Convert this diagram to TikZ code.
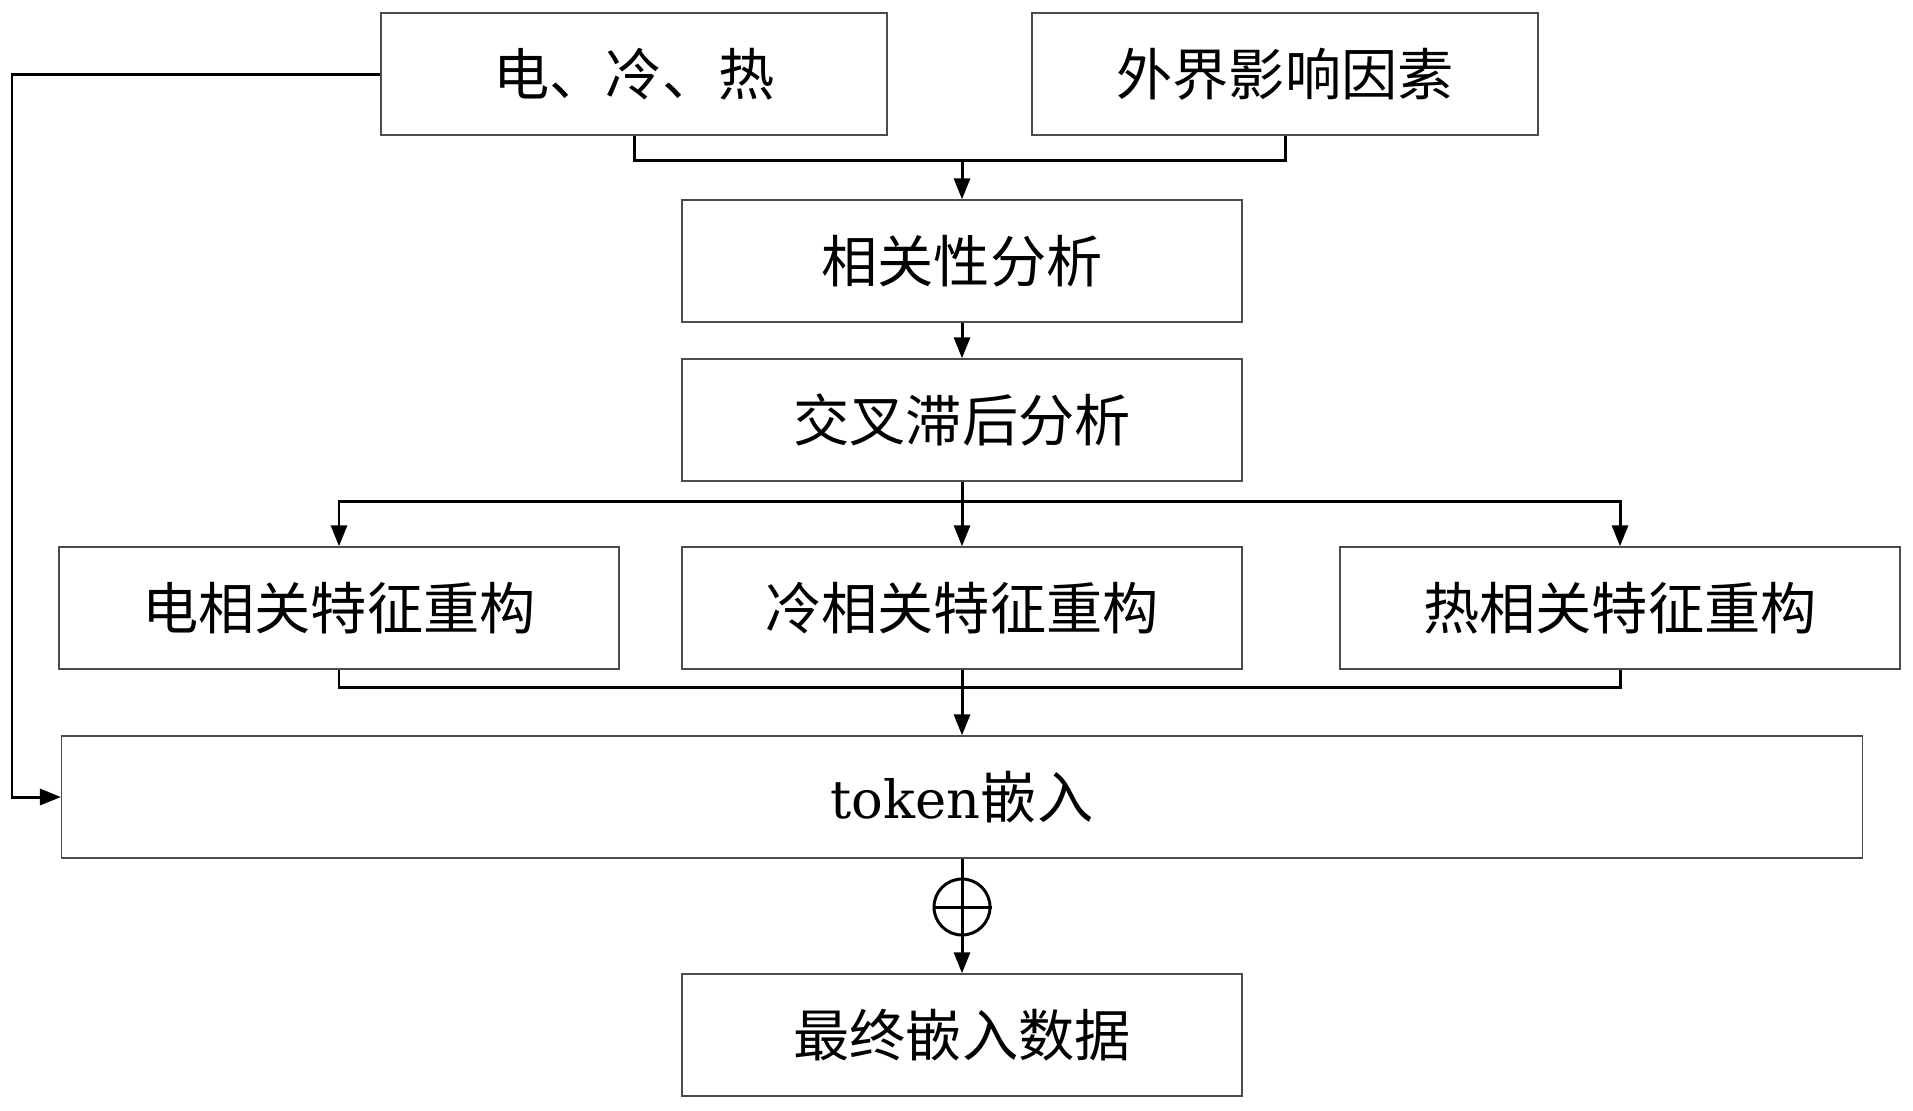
\documentclass[tikz,border=0pt]{standalone}
\usepackage{fontspec}
\newfontfamily\cjk{Noto Sans CJK SC}
\newfontfamily\latn{DejaVu Serif}
\usetikzlibrary{arrows.meta}
\begin{document}
\begin{tikzpicture}[x=0.02cm, y=-0.02cm,
    every node/.style={font=\cjk\fontsize{32}{38}\selectfont},
    box/.style={draw=black!70, line width=0.8pt, minimum width=11.2cm, minimum height=2.44cm, inner sep=0pt},
    wide/.style={box, minimum width=10.12cm},
    link/.style={line width=1.7pt},
    arr/.style={link, -{Triangle[length=0.42cm, width=0.32cm]}}]
      \useasboundingbox (0,0) rectangle (1913,1110);
      % inputs on top
      \node[wide] (ele) at (634,74) {电、冷、热};
      \node[wide] (ext) at (1285,74) {外界影响因素};
      % analysis steps
      \node[box] (corr) at (962,261) {相关性分析};
      \node[box] (lag) at (962,420) {交叉滞后分析};
      % feature reconstruction row
      \node[box] (fe) at (339,608) {电相关特征重构};
      \node[box] (fc) at (962,608) {冷相关特征重构};
      \node[box] (fh) at (1620,608) {热相关特征重构};
      % embedding
      \node[box, minimum width=36.02cm] (tok) at (962,797) {{\latn\fontsize{30}{36}\selectfont token}嵌入};
      \node[draw, circle, link, minimum size=1.12cm, inner sep=0pt] (sum) at (962,907) {};
      \node[box] (final) at (962,1035) {最终嵌入数据};
      % junctions
      \coordinate (j1) at (962,160);
      \coordinate (j2) at (962,501);
      \coordinate (j3) at (962,687);
      \coordinate (lft) at (12,74);
      % connectors
      \draw[link] (ele.south) |- (j1) -| (ext.south);
      \draw[arr] (j1) -- (corr.north);
      \draw[arr] (corr.south) -- (lag.north);
      \draw[link] (lag.south) -- (j2);
      \draw[arr] (j2) -| (fe.north);
      \draw[arr] (j2) -| (fh.north);
      \draw[arr] (j2) -- (fc.north);
      \draw[link] (fe.south) |- (j3) -| (fh.south);
      \draw[arr] (fc.south) -- (tok.north);
      \draw[arr] (ele.west) -- (lft) |- (tok.west);
      \draw[arr] (tok.south) -- (final.north);
      \draw[link] (sum.west) -- (sum.east);
\end{tikzpicture}
\end{document}
